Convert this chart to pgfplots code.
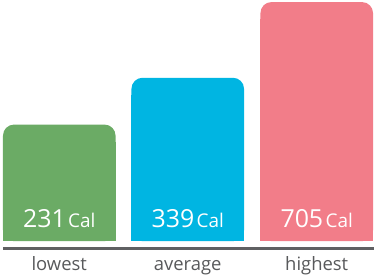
\documentclass[border=0pt]{standalone}
\usepackage{pgfplots}
\pgfplotsset{compat=1.18}
\usepackage{fontspec}
\setmainfont{Open Sans}
\definecolor{cgreen}{HTML}{6BAB65}
\definecolor{cblue}{HTML}{00B5E2}
\definecolor{cpink}{HTML}{F27D89}
\definecolor{cline}{HTML}{5F6062}
\definecolor{ctext}{HTML}{58595B}
\begin{document}
\begin{tikzpicture}
\begin{axis}[
  scale only axis, width=375pt, height=242pt,
  xmin=0, xmax=375, ymin=0, ymax=242,
  clip=false,
  axis line style={draw=none},
  ytick=\empty,
  xtick={59.5,188.5,318},
  xticklabels={lowest,average,highest},
  major tick length=0pt,
  xticklabel style={font=\fontsize{18.5}{18.5}\selectfont, text=ctext, anchor=base, yshift=-29pt},
  /pgf/number format/assume math mode=true,
]
% rounded full-height bars
\addplot[ybar, bar shift=0pt, bar width=113, fill=cgreen, draw=none, rounded corners=11pt] coordinates {(59.5,117)};
\addplot[ybar, bar shift=0pt, bar width=113, fill=cgreen, draw=none] coordinates {(59.5,100)};
\addplot[ybar, bar shift=0pt, bar width=113, fill=cblue, draw=none, rounded corners=11pt] coordinates {(188.5,164)};
\addplot[ybar, bar shift=0pt, bar width=113, fill=cblue, draw=none] coordinates {(188.5,147)};
\addplot[ybar, bar shift=0pt, bar width=113, fill=cpink, draw=none, rounded corners=11pt] coordinates {(318,240)};
\addplot[ybar, bar shift=0pt, bar width=113, fill=cpink, draw=none] coordinates {(318,223)};
% value labels
\addplot[draw=none, mark=none, point meta=explicit symbolic,
  nodes near coords={\fontsize{25}{25}\selectfont\pgfplotspointmeta\kern2.5pt\fontsize{19}{19}\selectfont Cal},
  every node near coord/.append style={anchor=base, yshift=14pt, text=white, inner sep=0pt}]
  table[meta=label] {
x y label
59.5 0 231
188.5 0 339
318 0 705
};
\draw[cline, line width=3pt] (axis cs:3,-7.5) -- (axis cs:375,-7.5);
\path (axis cs:0,-37) (axis cs:375,242);
\end{axis}
\end{tikzpicture}
\end{document}
